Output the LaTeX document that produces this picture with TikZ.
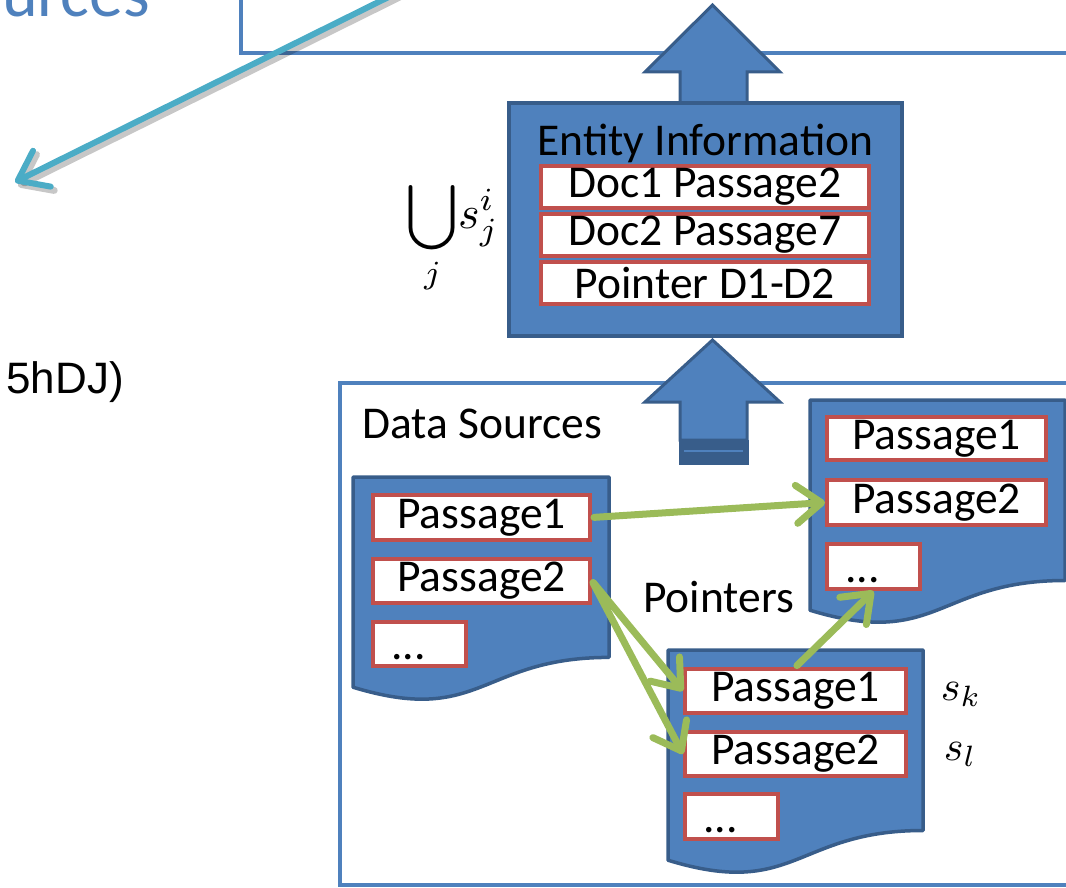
\documentclass[tikz,border=0pt]{standalone}
\usepackage{fontspec}
\setmainfont{Carlito}
\newfontfamily\arialfont{Liberation Sans}
\usetikzlibrary{arrows.meta,calc}
\definecolor{accblue}{HTML}{4F81BD}
\definecolor{edgeblue}{HTML}{385D8A}
\definecolor{accred}{HTML}{C0504D}
\definecolor{accgreen}{HTML}{9BBB59}
\definecolor{acccyan}{HTML}{4BACC6}

\begin{document}
\begin{tikzpicture}[x=1pt,y=-1pt,
  frame/.style={draw=accblue, line width=3.5pt},
  docshape/.style={fill=accblue, draw=edgeblue, line width=3.5pt, line join=round},
  blockarrow/.style={fill=accblue, draw=edgeblue, line width=3pt, line join=miter},
  bigtext/.style={inner sep=0pt, font=\fontsize{45.5}{54}\selectfont},
  pbox/.style={draw=accred, fill=white, line width=4pt, inner sep=0pt,
    font=\fontsize{45.5}{54}\selectfont},
  mathlbl/.style={inner sep=0pt, scale=4.2, transform shape},
  unionlbl/.style={inner sep=0pt, scale=4.6, transform shape},
  link/.style={draw=accgreen, line width=7pt, line cap=round, shorten <=2pt,
    -{Straight Barb[length=25pt, width=38pt, round]}},
  refline/.style={draw=acccyan, line width=6pt, line cap=round,
    -{Straight Barb[length=27pt, width=40pt, round]}},
  refshadow/.style={draw=black, opacity=0.22, line width=7pt, line cap=round,
    -{Straight Barb[length=27pt, width=40pt, round]}}
]
\useasboundingbox (0,0) rectangle (1066,888);

% heading fragment and side note
\node[anchor=base east, inner sep=0pt, text=accblue,
  font=\fontsize{68}{80}\selectfont] (heading) at (150,17) {urces};
\node[anchor=base east, inner sep=0pt,
  font=\arialfont\fontsize{44}{52}\selectfont] (note) at (124,393) {5hDJ)};

% frames
\draw[frame] (241,-10) rectangle (1080,53);
\draw[frame] (340,383) rectangle (1080,885);
\node[bigtext, anchor=base west] (dslabel) at (362,438) {Data Sources};

% upward block arrows
\coordinate (upA) at (712.5,5);
\draw[blockarrow] (680,106) -- (680,72) -- (645,72) -- (upA) -- (780,72)
  -- (747,72) -- (747,106) -- cycle;
\coordinate (upB) at (712.5,340);
\draw[blockarrow] (680,440) -- (680,402) -- (645,402) -- (upB) -- (780,402)
  -- (747,402) -- (747,440) -- cycle;
\fill[edgeblue] (678.5,440) rectangle (748.5,465);
\draw[accblue, line width=1.5pt] (684,451) -- (743,451);

% entity information box
\node[draw=edgeblue, fill=accblue, line width=4pt, minimum width=393,
  minimum height=233] (entity) at (705.5,219.5) {};
\node[bigtext, anchor=base] (etitle) at (705.5,156) {Entity Information};
\node[pbox, minimum width=328, minimum height=42] (erow1) at (705,187) {Doc1 Passage2};
\node[pbox, minimum width=328, minimum height=42] (erow2) at (705,235) {Doc2 Passage7};
\node[pbox, minimum width=328, minimum height=42] (erow3) at (705,283) {Pointer D1-D2};
\node[unionlbl, anchor=base west] (union) at (406,229)
  {$\displaystyle\bigcup_j\! s^i_j$};

% documents
\draw[docshape] (353,477) -- (609,477) -- (609,657.4)
  .. controls (481,657.4) and (481,726.2) .. (353,687.2) -- cycle;
\draw[docshape] (810,400) -- (1065,400) -- (1065,580.5)
  .. controls (937.5,580.5) and (937.5,649.2) .. (810,610.2) -- cycle;
\draw[docshape] (668,650) -- (923,650) -- (923,830.5)
  .. controls (795.5,830.5) and (795.5,899.2) .. (668,860.2) -- cycle;

% passages of the first document
\node[pbox, minimum width=217, minimum height=45] (Apass1) at (481.5,517.5) {Passage1};
\node[pbox, minimum width=217, minimum height=44] (Apass2) at (481.5,581) {Passage2};
\node[pbox, minimum width=93, minimum height=44] (Adots) at (419.5,644) {};
\node[bigtext, anchor=base west] (Adotstxt) at ([xshift=20pt,yshift=9pt]Adots.south west) {...};

% passages of the second document
\node[pbox, minimum width=219, minimum height=43] (Bpass1) at (936.5,438.5) {Passage1};
\node[pbox, minimum width=219, minimum height=45] (Bpass2) at (936.5,502.5) {Passage2};
\node[pbox, minimum width=93, minimum height=45] (Bdots) at (873.5,566.5) {};
\node[bigtext, anchor=base west] (Bdotstxt) at ([xshift=20pt,yshift=9pt]Bdots.south west) {...};

% passages of the pointer document
\node[pbox, minimum width=221, minimum height=44] (Cpass1) at (795.5,691) {Passage1};
\node[pbox, minimum width=221, minimum height=44] (Cpass2) at (795.5,754) {Passage2};
\node[pbox, minimum width=93, minimum height=45] (Cdots) at (731.5,816.5) {};
\node[bigtext, anchor=base west] (Cdotstxt) at ([xshift=20pt,yshift=9pt]Cdots.south west) {...};

\node[bigtext, anchor=base west] (ptrlabel) at (643,612) {Pointers};
\node[mathlbl, anchor=base west] (sk) at (940,700) {$s_k$};
\node[mathlbl, anchor=base west] (sl) at (943,760) {$s_l$};

% pointer links
\draw[link] (Apass1.east) -- (Bpass2.west);
\draw[link] (Apass2.east) -- (Cpass1.west);
\draw[link] (Apass2.east) -- (Cpass2.west);
\draw[link] (Cpass1.north) -- (Bdots.south);

% reference arrow
\coordinate (refstart) at (431,-24);
\coordinate (reftip) at (15,182);
\draw[refshadow] ([shift={(3,4)}]refstart) -- ([shift={(3,4)}]reftip);
\draw[refline] (refstart) -- (reftip);
\end{tikzpicture}
\end{document}
